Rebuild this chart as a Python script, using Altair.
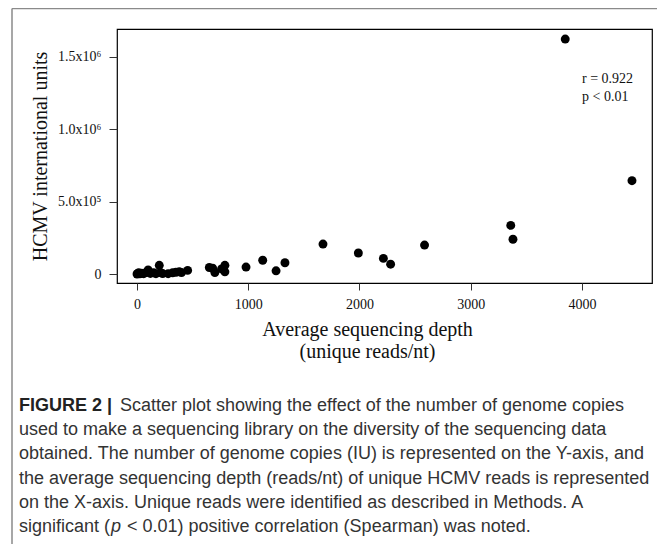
import altair as alt
import pandas as pd

# ---- data ----
depth = [0, 5, 15, 25, 40, 60, 80, 100, 120, 150, 170, 200, 210, 230, 280, 320, 350, 380, 400, 455,
         650, 680, 700, 760, 790, 790, 980, 1130, 1250, 1330, 1672, 1990, 2215, 2280, 2585,
         3360, 3380, 3850, 4450]
iu = [0, 3000, 8000, 1000, 5000, 2000, 10000, 28000, 4000, 8000, 2000, 60000, 10000, 3000, 2000, 8000,
      12000, 15000, 10000, 25000,
      45000, 40000, 10000, 35000, 60000, 15000, 48000, 95000, 22000, 78000, 207000, 145000, 108000,
      68000, 200000, 336000, 240000, 1624000, 645000]

x_ticks = [0, 1000, 2000, 3000, 4000]
y_ticks = [0, 500000, 1000000, 1500000]
y_tick_labels = ["0", "5.0x10\u2075", "1.0x10\u2076", "1.5x10\u2076"]

x_title = ["Average sequencing depth", "(unique reads/nt)"]
y_title = "HCMV international units"
stats_text = ["r = 0.922", "p < 0.01"]

caption_head = "FIGURE 2 |"
caption_first = "Scatter plot showing the effect of the number of genome copies"
caption_rest = [
    "used to make a sequencing library on the diversity of the sequencing data",
    "obtained. The number of genome copies (IU) is represented on the Y-axis, and",
    "the average sequencing depth (reads/nt) of unique HCMV reads is represented",
    "on the X-axis. Unique reads were identified as described in Methods. A",
]
caption_last_a = "significant ("
caption_last_p = "p"
caption_last_b = "< 0.01) positive correlation (Spearman) was noted."

df = pd.DataFrame({"depth": depth, "iu": iu})
one = pd.DataFrame({"k": [0]})

SERIF = "Liberation Serif"
SANS = "Liberation Sans"

label_expr = " : ".join(
    f"datum.value == {v} ? '{l}'" for v, l in zip(y_ticks, y_tick_labels)
) + " : ''"

W, H = 535, 254

points = alt.Chart(df).mark_circle(size=80, color="black", opacity=1).encode(
    x=alt.X("depth:Q",
            scale=alt.Scale(domain=[-180, 4630], nice=False, zero=False),
            axis=alt.Axis(values=x_ticks, format="d", title=x_title, grid=False, domain=False,
                          tickSize=7, tickColor="#333", labelPadding=7,
                          labelFont=SERIF, labelFontSize=14, labelColor="#111",
                          titleFont=SERIF, titleFontSize=20, titleFontWeight="normal",
                          titleColor="#111", titlePadding=8, titleLineHeight=22,
                          titleX=250)),
    y=alt.Y("iu:Q",
            scale=alt.Scale(domain=[-62200, 1693500], nice=False, zero=False),
            axis=alt.Axis(values=y_ticks, labelExpr=label_expr, title=y_title, grid=False,
                          domain=False, tickSize=8, tickColor="#333", labelPadding=8,
                          labelFont=SERIF, labelFontSize=14, labelColor="#111",
                          titleFont=SERIF, titleFontSize=20, titleFontWeight="normal",
                          titleColor="#111", titlePadding=7)),
)

stats = alt.Chart(one).mark_text(font=SERIF, fontSize=14, align="left",
                                 baseline="alphabetic", lineHeight=18, color="#111").encode(
    x=alt.value(465), y=alt.value(54), text=alt.value(stats_text))

# outer figure frame (clipped at right/bottom like the source)
frame_top = alt.Chart(one).mark_rule(color="#8a8a8a", strokeWidth=1.5).encode(
    x=alt.value(-105), x2=alt.value(560), y=alt.value(-20.5))
frame_left = alt.Chart(one).mark_rule(color="#8a8a8a", strokeWidth=1.5).encode(
    x=alt.value(-105), y=alt.value(-20.5), y2=alt.value(540))

cap_head = alt.Chart(one).mark_text(font=SANS, fontSize=18, fontWeight="bold", align="left",
                                    baseline="alphabetic", color="#222").encode(
    x=alt.value(-98), y=alt.value(382), text=alt.value(caption_head))
cap_first = alt.Chart(one).mark_text(font=SANS, fontSize=18, align="left",
                                     baseline="alphabetic", color="#333").encode(
    x=alt.value(3), y=alt.value(382), text=alt.value(caption_first))
cap_rest = alt.Chart(one).mark_text(font=SANS, fontSize=18, align="left", lineHeight=24.2,
                                    baseline="alphabetic", color="#333").encode(
    x=alt.value(-98), y=alt.value(406.2), text=alt.value(caption_rest))
cap_last_a = alt.Chart(one).mark_text(font=SANS, fontSize=18, align="left",
                                      baseline="alphabetic", color="#333").encode(
    x=alt.value(-98), y=alt.value(503), text=alt.value(caption_last_a))
cap_last_p = alt.Chart(one).mark_text(font=SANS, fontSize=18, align="left", fontStyle="italic",
                                      baseline="alphabetic", color="#333").encode(
    x=alt.value(-6), y=alt.value(503), text=alt.value(caption_last_p))
cap_last_b = alt.Chart(one).mark_text(font=SANS, fontSize=18, align="left",
                                      baseline="alphabetic", color="#333").encode(
    x=alt.value(10), y=alt.value(503), text=alt.value(caption_last_b))

chart = alt.layer(points, stats, frame_top, frame_left, cap_head, cap_first, cap_rest,
                  cap_last_a, cap_last_p, cap_last_b).properties(
    width=W, height=H,
    autosize=alt.AutoSizeParams(type="none"),
    padding={"left": 109, "top": 21, "right": 5, "bottom": 261},
).configure_view(stroke="black", strokeWidth=1.2)

chart.save("out.html", embed_options={"renderer": "svg", "actions": False})
